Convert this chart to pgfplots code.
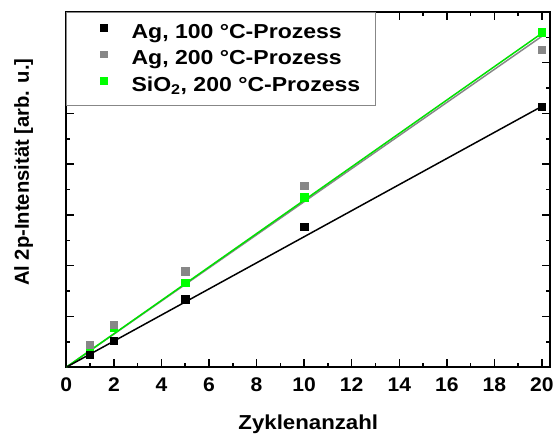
\documentclass[border=0pt]{standalone}
\usepackage{pgfplots}
\pgfplotsset{compat=1.18}
\usepackage{fontspec}
\setmainfont{Liberation Sans}
\newfontfamily\tickfont[FakeStretch=1.07]{Liberation Sans}
\newfontfamily\xlabfont[FakeStretch=1.1]{Liberation Sans}
\newfontfamily\legfont[FakeStretch=1.14]{Liberation Sans}
\definecolor{mygreen}{RGB}{0,255,0}
\definecolor{mygreenline}{RGB}{0,225,0}
\definecolor{mygray}{RGB}{135,135,135}
\pgfplotsset{
 legmark/.style={mark=square*, mark size=3.4bp, #1,
   legend image code/.code={\path (0bp,0bp) (49bp,0bp); \draw[##1] plot coordinates {(28bp,4bp)};}},
}
\begin{document}
\begin{tikzpicture}
\begin{axis}[
 name=ax,
 scale only axis, width=489bp, height=359bp,
 xmin=0, xmax=20.35, ymin=0, ymax=7,
 xtick={0,2,...,20}, minor x tick num=1,
 ytick={0,1,...,7}, minor y tick num=1, yticklabels={},
 tick align=inside,
 major tick length=8bp, minor tick length=4bp,
 tick style={black, line width=1.5bp},
 axis line style={line width=1.8bp},
 ticklabel style={font=\fontsize{20}{24}\selectfont\tickfont\bfseries},
 xticklabel style={anchor=base, yshift=-25bp},
 /pgf/number format/assume math mode=true,
 xlabel={Zyklenanzahl}, ylabel={Al 2p-Intensität [arb. u.]},
 xlabel style={font=\fontsize{20.5}{24}\selectfont\xlabfont\bfseries,
   at={(axis description cs:0.5,-0.1755)}, anchor=base},
 ylabel style={font=\fontsize{20.5}{24}\selectfont\bfseries,
   at={(axis description cs:-0.088,0.549)}, anchor=center},
 legend style={at={(0,1)}, anchor=north west, draw=mygray, line width=0.8bp,
   font=\fontsize{20.5}{24}\selectfont\legfont\bfseries, inner xsep=9bp, inner ysep=11bp,
   row sep=9bp, nodes={inner xsep=6.7bp, inner ysep=1bp}},
 legend cell align=left,
]
\addlegendimage{legmark=black}
\addlegendentry{Ag, 100 °C-Prozess}
\addlegendimage{legmark=mygray}
\addlegendentry{Ag, 200 °C-Prozess}
\addlegendimage{legmark=mygreen}
\addlegendentry{SiO\textsubscript{2}, 200 °C-Prozess\rule[-14bp]{0pt}{14bp}}

% fit lines
\addplot[mygray, line width=1.5bp, forget plot] coordinates {(0,0) (20,6.52)};
\addplot[mygreenline, line width=1.5bp, forget plot] coordinates {(0,0) (20,6.58)};
\addplot[black, line width=1.5bp, forget plot] coordinates {(0,0) (20,5.14)};

% data
\addplot[only marks, mark=square*, mark size=3.6bp, mygreen, forget plot] coordinates {
(1,0.40) (2,0.78) (5,1.67) (10,3.35) (20,6.60)};
\addplot[only marks, mark=square*, mark size=3.6bp, mygray, forget plot] coordinates {
(1,0.45) (2,0.84) (5,1.89) (10,3.58) (20,6.26)};
\addplot[only marks, mark=square*, mark size=3.6bp, black, forget plot] coordinates {
(1,0.25) (2,0.53) (5,1.34) (10,2.76) (20,5.14)};
\end{axis}
\path ([xshift=-67bp,yshift=-70bp]ax.south west) ([xshift=1bp,yshift=12bp]ax.north east);
\end{tikzpicture}
\end{document}
